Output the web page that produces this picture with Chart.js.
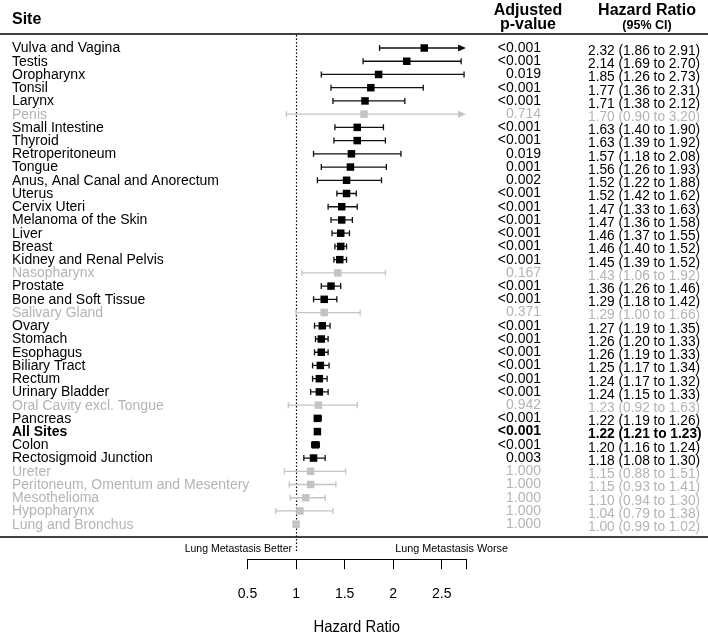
<!DOCTYPE html>
<html>
<head>
<meta charset="utf-8">
<script src="https://cdn.jsdelivr.net/npm/chart.js@4.4.0/dist/chart.umd.min.js"></script>
<style>
  html, body { margin: 0; padding: 0; background: #fff; }
  #wrap { width: 708px; height: 634px; }
</style>
</head>
<body>
<div id="wrap"><canvas id="forest"></canvas></div>
<script>
const sites = ['Vulva and Vagina', 'Testis', 'Oropharynx', 'Tonsil', 'Larynx', 'Penis',
  'Small Intestine', 'Thyroid', 'Retroperitoneum', 'Tongue', 'Anus, Anal Canal and Anorectum',
  'Uterus', 'Cervix Uteri', 'Melanoma of the Skin', 'Liver', 'Breast', 'Kidney and Renal Pelvis',
  'Nasopharynx', 'Prostate', 'Bone and Soft Tissue', 'Salivary Gland', 'Ovary', 'Stomach',
  'Esophagus', 'Biliary Tract', 'Rectum', 'Urinary Bladder', 'Oral Cavity excl. Tongue',
  'Pancreas', 'All Sites', 'Colon', 'Rectosigmoid Junction', 'Ureter',
  'Peritoneum, Omentum and Mesentery', 'Mesothelioma', 'Hypopharynx', 'Lung and Bronchus'];
const hazard = [2.32, 2.14, 1.85, 1.77, 1.71, 1.70, 1.63, 1.63, 1.57, 1.56, 1.52, 1.52, 1.47,
  1.47, 1.46, 1.46, 1.45, 1.43, 1.36, 1.29, 1.29, 1.27, 1.26, 1.26, 1.25, 1.24, 1.24, 1.23,
  1.22, 1.22, 1.20, 1.18, 1.15, 1.15, 1.10, 1.04, 1.00];
const lowerCI = [1.86, 1.69, 1.26, 1.36, 1.38, 0.90, 1.40, 1.39, 1.18, 1.26, 1.22, 1.42, 1.33,
  1.36, 1.37, 1.40, 1.39, 1.06, 1.26, 1.18, 1.00, 1.19, 1.20, 1.19, 1.17, 1.17, 1.15, 0.92,
  1.19, 1.21, 1.16, 1.08, 0.88, 0.93, 0.94, 0.79, 0.99];
const upperCI = [2.91, 2.70, 2.73, 2.31, 2.12, 3.20, 1.90, 1.92, 2.08, 1.93, 1.88, 1.62, 1.63,
  1.58, 1.55, 1.52, 1.52, 1.92, 1.46, 1.42, 1.66, 1.35, 1.33, 1.33, 1.34, 1.32, 1.33, 1.63,
  1.26, 1.23, 1.24, 1.30, 1.51, 1.41, 1.30, 1.38, 1.02];
const pValues = ['<0.001', '<0.001', '0.019', '<0.001', '<0.001', '0.714', '<0.001', '<0.001',
  '0.019', '0.001', '0.002', '<0.001', '<0.001', '<0.001', '<0.001', '<0.001', '<0.001', '0.167',
  '<0.001', '<0.001', '0.371', '<0.001', '<0.001', '<0.001', '<0.001', '<0.001', '<0.001', '0.942',
  '<0.001', '<0.001', '<0.001', '0.003', '1.000', '1.000', '1.000', '1.000', '1.000'];
const xTicks = [0.5, 1, 1.5, 2, 2.5];
const xMin = 0.5;
const xMax = 2.75;
const boldSite = 'All Sites';

// non significant rows are greyed out
const isGray = pValues.map(p => !p.startsWith('<') && parseFloat(p) >= 0.05);
const BLACK = '#000';
const GRAY_MARK = '#c4c4c4';
const GRAY_TEXT = '#b4b4b4';
const FONT = "'Liberation Sans', Arial, sans-serif";

function drawText(ctx, str, x, y, size, bold, color, align, sx) {
  ctx.save();
  ctx.font = (bold ? 'bold ' : '') + size + 'px ' + FONT;
  ctx.fillStyle = color;
  ctx.textAlign = align;
  ctx.textBaseline = 'middle';
  ctx.translate(x, y);
  ctx.scale(sx, 1);
  ctx.fillText(str, 0, 0);
  ctx.restore();
}

function hLine(ctx, x1, x2, y, w) {
  ctx.beginPath();
  ctx.lineWidth = w;
  ctx.strokeStyle = BLACK;
  ctx.moveTo(x1, y);
  ctx.lineTo(x2, y);
  ctx.stroke();
}

const forestPlugin = {
  id: 'forest',
  beforeDatasetsDraw(chart) {
    const ctx = chart.ctx;
    const xs = chart.scales.x, ys = chart.scales.y;

    // reference line at HR = 1
    const x1 = Math.round(xs.getPixelForValue(1)) + 0.5;
    ctx.save();
    ctx.setLineDash([1.5, 2]);
    ctx.lineWidth = 1.2;
    ctx.strokeStyle = BLACK;
    ctx.beginPath();
    ctx.moveTo(x1, 35);
    ctx.lineTo(x1, 551);
    ctx.stroke();
    ctx.restore();

    // confidence intervals
    ctx.save();
    sites.forEach((s, i) => {
      const y = ys.getPixelForValue(i);
      const col = isGray[i] ? GRAY_MARK : '#111';
      const a = xs.getPixelForValue(Math.max(lowerCI[i], xMin));
      const b = xs.getPixelForValue(Math.min(upperCI[i], xMax));
      const clipped = upperCI[i] > xMax;
      ctx.strokeStyle = col;
      ctx.fillStyle = col;
      ctx.lineWidth = 1.3;
      ctx.beginPath();
      ctx.moveTo(a, y);
      ctx.lineTo(clipped ? b - 7 : b, y);
      ctx.moveTo(a, y - 3);
      ctx.lineTo(a, y + 3);
      if (!clipped) {
        ctx.moveTo(b, y - 3);
        ctx.lineTo(b, y + 3);
      }
      ctx.stroke();
      if (clipped) {
        ctx.beginPath();
        ctx.moveTo(b, y);
        ctx.lineTo(b - 8, y - 3.5);
        ctx.lineTo(b - 8, y + 3.5);
        ctx.closePath();
        ctx.fill();
      }
    });
    ctx.restore();
  },
  afterDraw(chart) {
    const ctx = chart.ctx;
    const xs = chart.scales.x, ys = chart.scales.y;
    const W = chart.width;

    // headers
    drawText(ctx, 'Site', 12, 20, 16, true, BLACK, 'left', 1);
    drawText(ctx, 'Adjusted', 528, 11, 16, true, BLACK, 'center', 1);
    drawText(ctx, 'p-value', 528, 25, 16, true, BLACK, 'center', 1);
    drawText(ctx, 'Hazard Ratio', 647, 11, 16, true, BLACK, 'center', 1);
    drawText(ctx, '(95% CI)', 647, 26, 12.5, true, BLACK, 'center', 1);
    hLine(ctx, 0, W, 34, 1.5);
    hLine(ctx, 0, W, 537, 1.5);

    // rows
    sites.forEach((s, i) => {
      const y = ys.getPixelForValue(i);
      const col = isGray[i] ? GRAY_TEXT : BLACK;
      const bold = s === boldSite;
      drawText(ctx, s, 12, y + 0.5, 14, bold, col, 'left', 1);
      drawText(ctx, pValues[i], 541, y, 14, bold, col, 'right', 1);
      const hrTxt = hazard[i].toFixed(2) + ' (' + lowerCI[i].toFixed(2) + ' to ' + upperCI[i].toFixed(2) + ')';
      drawText(ctx, hrTxt, 588, y + 3, 14, bold, col, 'left', 0.98);
    });

    // axis annotations
    const ref = xs.getPixelForValue(1);
    drawText(ctx, 'Lung Metastasis Better', ref - 4, 549, 10.5, false, BLACK, 'right', 1);
    drawText(ctx, 'Lung Metastasis Worse', xs.getPixelForValue(2) + 2, 549, 10.5, false, BLACK, 'left', 1.03);
    drawText(ctx, 'Hazard Ratio', (xs.left + xs.right) / 2, 627, 16.5, false, BLACK, 'center', 0.9);
  }
};

const chart = new Chart(document.getElementById('forest'), {
  type: 'scatter',
  data: {
    datasets: [{
      data: hazard.map((v, i) => ({ x: v, y: i })),
      pointStyle: 'rect',
      pointRadius: 5.3,
      pointHoverRadius: 5.3,
      pointBorderWidth: 0,
      pointBackgroundColor: isGray.map(g => g ? GRAY_MARK : BLACK),
      clip: false
    }]
  },
  options: {
    responsive: true,
    maintainAspectRatio: false,
    animation: false,
    events: [],
    layout: { padding: { left: 247.5, right: 242, top: 34, bottom: 14 } },
    plugins: { legend: { display: false }, tooltip: { enabled: false } },
    scales: {
      x: {
        type: 'linear',
        min: xMin,
        max: xMax,
        afterBuildTicks: scale => {
          scale.ticks = xTicks.concat([xMax]).map(v => ({ value: v }));
        },
        ticks: {
          color: BLACK,
          padding: 17,
          font: { family: FONT, size: 14 },
          callback: v => (v === xMax ? '' : String(v)),
          maxRotation: 0
        },
        grid: { drawOnChartArea: false, drawTicks: true, tickLength: 10, color: BLACK, lineWidth: 1 },
        border: { display: true, color: BLACK, width: 1 }
      },
      y: {
        type: 'linear',
        reverse: true,
        min: -1.0588,
        max: 38.647,
        display: false
      }
    }
  },
  plugins: [forestPlugin]
});
</script>
</body>
</html>
